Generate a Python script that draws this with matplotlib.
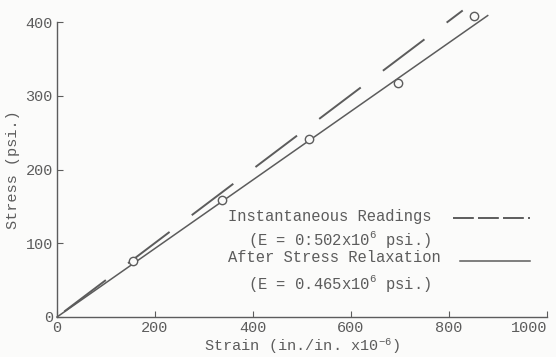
import numpy as np
import matplotlib
matplotlib.use("Agg")
import matplotlib.pyplot as plt

# measured points (strain in 1e-6 in./in., stress in psi)
strain_pts = [156, 336, 514, 695, 850]
stress_pts = [76, 158, 242, 317, 408]

# fitted moduli (E x10^6 psi) and where each fitted line was drawn to
E_inst = 0.502
E_relax = 0.465
inst_end = 828
relax_end = 879

x_ticks = [0, 200, 400, 600, 800, 1000]
y_ticks = [0, 100, 200, 300, 400]

ink = "#5c5c5c"
paper = "#fbfbfa"
plt.rcParams['font.family'] = ['Liberation Mono', 'DejaVu Sans Mono']
plt.rcParams['mathtext.fontset'] = 'custom'
plt.rcParams['mathtext.rm'] = 'Liberation Mono'
plt.rcParams['mathtext.it'] = 'Liberation Mono'
plt.rcParams['lines.scale_dashes'] = False

fig = plt.figure(figsize=(5.56, 3.57), dpi=100)
fig.patch.set_facecolor(paper)
ax = fig.add_axes([57/556, 40/357, 490/556, 295/357])
ax.set_facecolor(paper)

xs = np.array([0, relax_end])
ax.plot(xs, E_relax*xs, color=ink, lw=1.1, clip_on=False)
xd = np.array([0, inst_end])
ax.plot(xd, E_inst*xd, color=ink, lw=1.4, linestyle=(50.9, (37.5, 20)), clip_on=False)
ax.plot(strain_pts, stress_pts, 'o', ms=6, mfc=paper, mec=ink, mew=1.0, zorder=3, clip_on=False)

ax.set_xlim(0, 1000)
ax.set_ylim(0, 400)
ax.spines['top'].set_visible(False)
ax.spines['right'].set_visible(False)
for s in ['left', 'bottom']:
    ax.spines[s].set_color(ink)
    ax.spines[s].set_linewidth(1.0)
ax.set_xticks(x_ticks)
ax.set_yticks(y_ticks)
ax.tick_params(direction='in', length=4, color=ink, labelcolor=ink, labelsize=11, pad=3)
ax.tick_params(axis='y', pad=3)
ax.get_xticklabels()[-1].set_horizontalalignment('right')

ax.set_xlabel("Strain (in./in. x10$^{-6}$)", color=ink, fontsize=11, labelpad=1)
ax.set_ylabel("Stress (psi.)", color=ink, fontsize=11, labelpad=4)

# legend drawn as a text block, like the typed original
tx = ax.transAxes
ax.text(0.350, 0.341, "Instantaneous Readings", transform=tx, color=ink, fontsize=11.2, va='center')
ax.text(0.389, 0.262, "(E = 0:502x10$^{6}$ psi.)", transform=tx, color=ink, fontsize=11.2, va='center')
ax.text(0.350, 0.200, "After Stress Relaxation", transform=tx, color=ink, fontsize=11.2, va='center')
ax.text(0.389, 0.115, "(E = 0.465x10$^{6}$ psi.)", transform=tx, color=ink, fontsize=11.2, va='center')
ax.plot([0.808, 0.965], [0.334, 0.334], transform=tx, color=ink, lw=1.4, dashes=(15, 3))
ax.plot([0.822, 0.965], [0.191, 0.191], transform=tx, color=ink, lw=1.1)

fig.savefig("out.png", dpi=100, facecolor=fig.get_facecolor())
